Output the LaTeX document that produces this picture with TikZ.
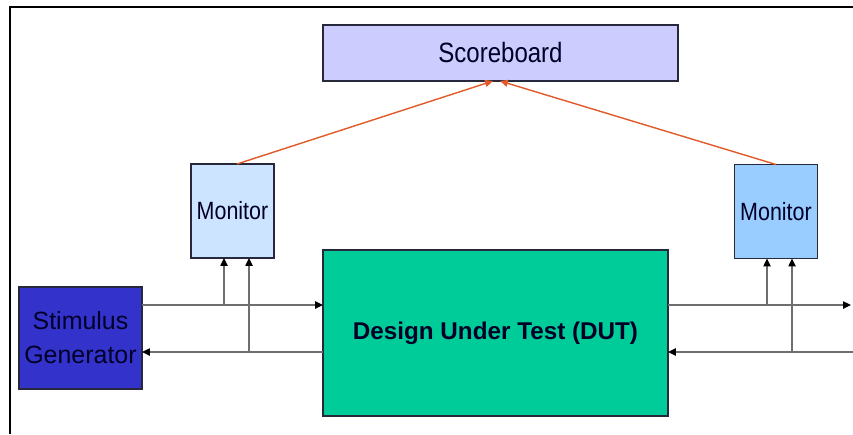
\documentclass[tikz,border=0pt]{standalone}
\usepackage{fontspec}
\setmainfont{Liberation Sans}
\newfontfamily\narrowsf{Liberation Sans}[FakeStretch=0.86]
\usetikzlibrary{arrows.meta}
\definecolor{sbfill}{RGB}{204,204,255}
\definecolor{monfillL}{RGB}{204,228,255}
\definecolor{monfillR}{RGB}{153,204,255}
\definecolor{stimfill}{RGB}{51,51,204}
\definecolor{dutfill}{RGB}{0,204,153}
\definecolor{sigline}{RGB}{110,110,110}
\definecolor{sbline}{RGB}{225,90,40}
\definecolor{boxline}{RGB}{40,40,60}
\tikzset{
  blk/.style={draw=boxline, line width=0.9pt, inner sep=0pt, outer sep=0pt,
    align=center, text=black!85!blue, font=\fontsize{14.2}{19.3}\selectfont},
  sig/.style={draw=sigline, line width=1.1pt, -{Triangle[length=4.5pt,width=4pt,color=black]}},
  tosb/.style={draw=sbline, line width=0.8pt, -{Triangle[length=4.5pt,width=4pt]}}
}
\begin{document}
\begin{tikzpicture}[x=0.02cm, y=-0.02cm]
  \useasboundingbox (0,0) rectangle (853,434);
  \draw[line width=1.2pt] (10,434) -- (10,7) -- (853,7);
  % blocks
  \node[blk, fill=sbfill, minimum width=7.1cm, minimum height=1.12cm,
    font=\narrowsf\fontsize{15.9}{18}\selectfont] (score) at (500.5,53) {Scoreboard};
  \node[blk, fill=monfillL, minimum width=1.66cm, minimum height=1.88cm,
    font=\narrowsf\fontsize{14.2}{16}\selectfont] (monL) at (232.5,211) {Monitor};
  \node[blk, fill=monfillR, minimum width=1.66cm, minimum height=1.88cm,
    font=\narrowsf\fontsize{14.2}{16}\selectfont] (monR) at (776,211.5) {Monitor};
  \node[blk, fill=dutfill, minimum width=6.9cm, minimum height=3.32cm,
    font=\fontsize{13.8}{16}\bfseries\selectfont] (dut) at (495.5,333) {Design Under Test (DUT)};
  \node[blk, fill=stimfill, minimum width=2.46cm, minimum height=2.04cm] (stim) at (80.5,338) {Stimulus\\Generator};
  % taps and free ends
  \coordinate (tapA) at (224,305);
  \coordinate (tapB) at (249,352);
  \coordinate (tapC) at (767,305);
  \coordinate (tapD) at (792,352);
  \coordinate (outR) at (851,305);
  \coordinate (inR) at (853,352);
  \coordinate (sbL) at (493,81);
  \coordinate (sbR) at (500,81);
  % signals
  \draw[sig] (stim.east |- tapA) -- (dut.west |- tapA);
  \draw[sig] (dut.west |- tapB) -- (stim.east |- tapB);
  \draw[sig] (tapA) -- (tapA |- monL.south);
  \draw[sig] (tapB) -- (tapB |- monL.south);
  \draw[sig] (dut.east |- tapC) -- (outR);
  \draw[sig] (inR) -- (dut.east |- tapD);
  \draw[sig] (tapC) -- (tapC |- monR.south);
  \draw[sig] (tapD) -- (tapD |- monR.south);
  % to scoreboard
  \draw[tosb] ([xshift=2.5]monL.north) -- (sbL);
  \draw[tosb] (monR.north) -- (sbR);
\end{tikzpicture}
\end{document}
